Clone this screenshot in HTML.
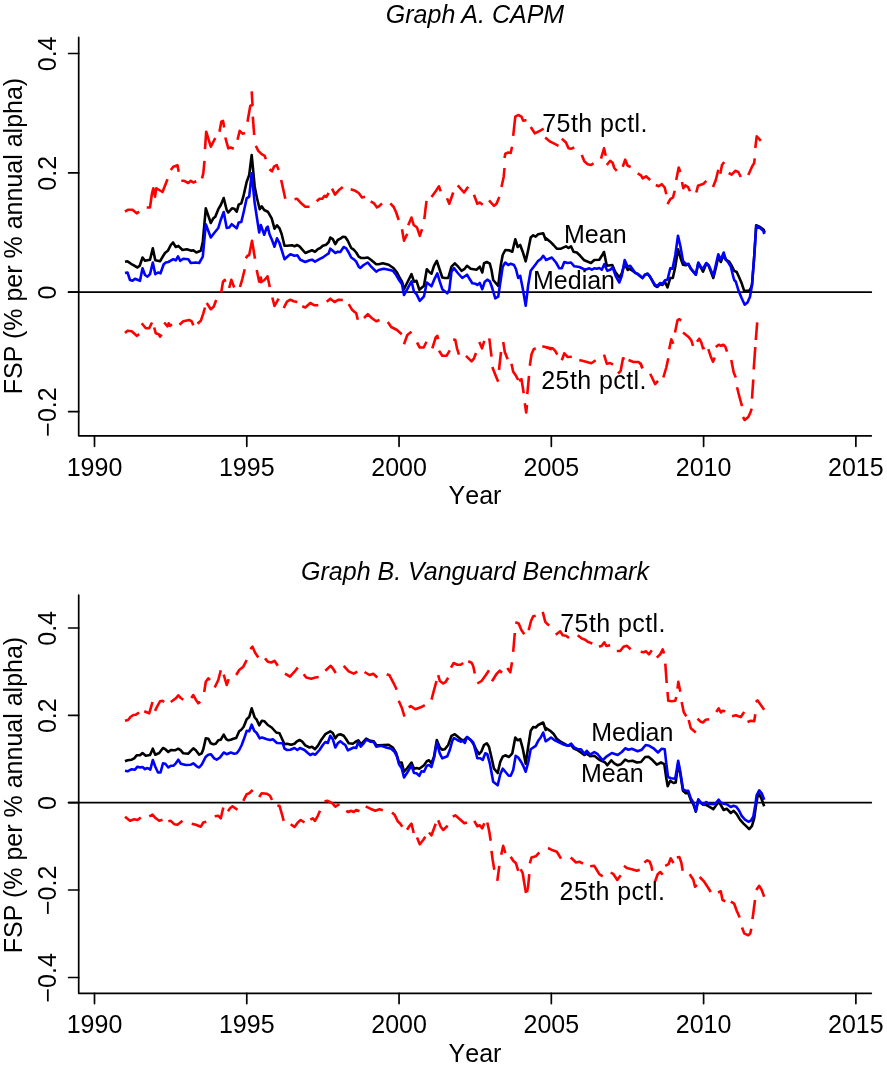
<!DOCTYPE html>
<html><head><meta charset="utf-8"><title>FSP graphs</title>
<style>
html,body{margin:0;padding:0;background:#fff;}
svg{display:block;}
text{font-family:"Liberation Sans",Arial,Helvetica,sans-serif;fill:#000;}
</style></head><body>
<svg width="887" height="1067" viewBox="0 0 887 1067">
<rect width="887" height="1067" fill="#fff"/>
<g id="zero">
<line x1="68.6" y1="292.2" x2="871.3" y2="292.2" stroke="#000" stroke-width="1.7" stroke-linecap="round"/>
<line x1="68.6" y1="802.6" x2="871.3" y2="802.6" stroke="#000" stroke-width="1.7" stroke-linecap="round"/>
</g>
<g id="curves">
<polyline points="125.0,211.7 128.3,209.7 132.5,209.7 136.7,213.3 139.2,211.7" fill="none" stroke="#ff0000" stroke-width="2.6" stroke-linejoin="round" stroke-linecap="butt"/>
<polyline points="146.7,207.5 150.0,207.5 152.0,193.3 153.3,188.3 155.0,196.7 156.3,188.3 159.2,190.0 162.5,192.0 167.5,179.2" fill="none" stroke="#ff0000" stroke-width="2.6" stroke-linejoin="round" stroke-linecap="butt"/>
<polyline points="170.8,170.0 173.3,166.7 177.5,165.3 178.7,171.7" fill="none" stroke="#ff0000" stroke-width="2.6" stroke-linejoin="round" stroke-linecap="butt"/>
<polyline points="181.3,180.8 184.2,180.8 188.3,183.0 190.8,180.8 193.3,182.5 196.3,181.3" fill="none" stroke="#ff0000" stroke-width="2.6" stroke-linejoin="round" stroke-linecap="butt"/>
<polyline points="202.0,178.3 203.3,173.3 204.5,160.8" fill="none" stroke="#ff0000" stroke-width="2.6" stroke-linejoin="round" stroke-linecap="butt"/>
<polyline points="205.0,149.2 206.2,131.7 210.8,146.7 215.3,138.0" fill="none" stroke="#ff0000" stroke-width="2.6" stroke-linejoin="round" stroke-linecap="butt"/>
<polyline points="219.5,131.7 221.3,121.7 223.0,120.8 224.2,127.5" fill="none" stroke="#ff0000" stroke-width="2.6" stroke-linejoin="round" stroke-linecap="butt"/>
<polyline points="225.3,137.5 228.3,148.3 230.8,147.5 233.8,148.7" fill="none" stroke="#ff0000" stroke-width="2.6" stroke-linejoin="round" stroke-linecap="butt"/>
<polyline points="237.5,139.7 239.7,130.8 242.5,133.7 245.0,133.0" fill="none" stroke="#ff0000" stroke-width="2.6" stroke-linejoin="round" stroke-linecap="butt"/>
<polyline points="247.5,121.7 250.3,105.8 252.5,105.0 251.7,91.3" fill="none" stroke="#ff0000" stroke-width="2.6" stroke-linejoin="round" stroke-linecap="butt"/>
<polyline points="252.8,116.7 254.2,135.0" fill="none" stroke="#ff0000" stroke-width="2.6" stroke-linejoin="round" stroke-linecap="butt"/>
<polyline points="255.8,145.8 258.3,150.8 261.7,154.2 264.7,155.8 265.8,159.2" fill="none" stroke="#ff0000" stroke-width="2.6" stroke-linejoin="round" stroke-linecap="butt"/>
<polyline points="269.5,169.2 272.0,171.3 274.0,166.7 276.7,165.0 278.7,170.0" fill="none" stroke="#ff0000" stroke-width="2.6" stroke-linejoin="round" stroke-linecap="butt"/>
<polyline points="281.2,180.0 285.3,198.7" fill="none" stroke="#ff0000" stroke-width="2.6" stroke-linejoin="round" stroke-linecap="butt"/>
<polyline points="294.5,199.2 297.0,198.7 301.2,203.3 305.3,206.7 309.5,206.7" fill="none" stroke="#ff0000" stroke-width="2.6" stroke-linejoin="round" stroke-linecap="butt"/>
<polyline points="316.7,201.3 319.5,198.7 322.3,198.7 324.5,195.8 326.2,197.0 328.7,193.0" fill="none" stroke="#ff0000" stroke-width="2.6" stroke-linejoin="round" stroke-linecap="butt"/>
<polyline points="332.0,188.7 335.0,194.7 338.7,190.3 342.8,187.0" fill="none" stroke="#ff0000" stroke-width="2.6" stroke-linejoin="round" stroke-linecap="butt"/>
<polyline points="350.7,189.2 355.3,190.8 358.7,193.0 362.0,197.5 365.0,196.7" fill="none" stroke="#ff0000" stroke-width="2.6" stroke-linejoin="round" stroke-linecap="butt"/>
<polyline points="370.7,201.3 374.0,203.3 377.0,207.5 379.5,205.8 382.0,203.3" fill="none" stroke="#ff0000" stroke-width="2.6" stroke-linejoin="round" stroke-linecap="butt"/>
<polyline points="390.3,203.3 393.7,207.0 396.2,212.5 398.7,220.0" fill="none" stroke="#ff0000" stroke-width="2.6" stroke-linejoin="round" stroke-linecap="butt"/>
<polyline points="402.0,229.2 404.0,240.8 406.7,235.0 407.5,234.0" fill="none" stroke="#ff0000" stroke-width="2.6" stroke-linejoin="round" stroke-linecap="butt"/>
<polyline points="408.2,225.3 411.5,217.5 413.7,225.0 416.5,227.0 417.3,228.3 419.8,235.8 422.0,229.2" fill="none" stroke="#ff0000" stroke-width="2.6" stroke-linejoin="round" stroke-linecap="butt"/>
<polyline points="424.3,219.2 426.5,200.8" fill="none" stroke="#ff0000" stroke-width="2.6" stroke-linejoin="round" stroke-linecap="butt"/>
<polyline points="431.5,197.0 435.7,191.3 439.0,186.3 440.7,191.3" fill="none" stroke="#ff0000" stroke-width="2.6" stroke-linejoin="round" stroke-linecap="butt"/>
<polyline points="447.0,198.3 449.3,203.7 453.2,192.5" fill="none" stroke="#ff0000" stroke-width="2.6" stroke-linejoin="round" stroke-linecap="butt"/>
<polyline points="457.7,185.3 464.0,192.5 468.2,186.7" fill="none" stroke="#ff0000" stroke-width="2.6" stroke-linejoin="round" stroke-linecap="butt"/>
<polyline points="474.0,194.7 477.3,203.7 479.8,202.5 482.7,204.7" fill="none" stroke="#ff0000" stroke-width="2.6" stroke-linejoin="round" stroke-linecap="butt"/>
<polyline points="489.0,200.3 494.0,205.8 496.5,203.7 499.3,197.0" fill="none" stroke="#ff0000" stroke-width="2.6" stroke-linejoin="round" stroke-linecap="butt"/>
<polyline points="501.5,187.0 503.7,176.7 504.5,168.0" fill="none" stroke="#ff0000" stroke-width="2.6" stroke-linejoin="round" stroke-linecap="butt"/>
<polyline points="504.5,158.0 505.3,153.7 508.2,152.5 510.7,153.0 512.0,146.7" fill="none" stroke="#ff0000" stroke-width="2.6" stroke-linejoin="round" stroke-linecap="butt"/>
<polyline points="513.2,135.8 515.3,116.7 518.2,115.0 521.5,116.7 523.2,120.8 526.5,120.0" fill="none" stroke="#ff0000" stroke-width="2.6" stroke-linejoin="round" stroke-linecap="butt"/>
<polyline points="530.7,127.0 534.8,133.3 539.8,130.8 543.7,128.7" fill="none" stroke="#ff0000" stroke-width="2.6" stroke-linejoin="round" stroke-linecap="butt"/>
<polyline points="545.2,137.5 550.2,141.7 554.3,143.7 558.5,145.8" fill="none" stroke="#ff0000" stroke-width="2.6" stroke-linejoin="round" stroke-linecap="butt"/>
<polyline points="561.8,138.7 566.0,142.5 568.5,148.3 571.0,148.7 574.3,147.5" fill="none" stroke="#ff0000" stroke-width="2.6" stroke-linejoin="round" stroke-linecap="butt"/>
<polyline points="581.8,155.0 584.3,161.3 587.7,164.2 591.0,165.0 593.5,163.3" fill="none" stroke="#ff0000" stroke-width="2.6" stroke-linejoin="round" stroke-linecap="butt"/>
<polyline points="601.0,158.7 604.0,148.3 605.7,155.8" fill="none" stroke="#ff0000" stroke-width="2.6" stroke-linejoin="round" stroke-linecap="butt"/>
<polyline points="606.8,165.0 610.2,160.8 612.7,163.0 614.3,168.0 616.8,170.8" fill="none" stroke="#ff0000" stroke-width="2.6" stroke-linejoin="round" stroke-linecap="butt"/>
<polyline points="622.7,166.7 625.2,159.7 627.7,165.8 630.7,167.0" fill="none" stroke="#ff0000" stroke-width="2.6" stroke-linejoin="round" stroke-linecap="butt"/>
<polyline points="637.7,173.3 641.0,175.3 642.7,178.3 646.0,176.3 650.2,180.0" fill="none" stroke="#ff0000" stroke-width="2.6" stroke-linejoin="round" stroke-linecap="butt"/>
<polyline points="655.8,185.0 658.7,186.3 661.7,184.2 664.7,187.5 666.3,194.2" fill="none" stroke="#ff0000" stroke-width="2.6" stroke-linejoin="round" stroke-linecap="butt"/>
<polyline points="667.5,204.2 670.3,199.2 673.0,197.5 674.7,190.8" fill="none" stroke="#ff0000" stroke-width="2.6" stroke-linejoin="round" stroke-linecap="butt"/>
<polyline points="676.2,180.0 678.7,167.5 680.3,172.0" fill="none" stroke="#ff0000" stroke-width="2.6" stroke-linejoin="round" stroke-linecap="butt"/>
<polyline points="682.0,182.0 683.3,188.3 685.3,185.3 688.0,187.0 690.0,191.3" fill="none" stroke="#ff0000" stroke-width="2.6" stroke-linejoin="round" stroke-linecap="butt"/>
<polyline points="696.3,192.5 698.0,185.8 700.8,184.7 703.7,183.7 706.3,180.8" fill="none" stroke="#ff0000" stroke-width="2.6" stroke-linejoin="round" stroke-linecap="butt"/>
<polyline points="713.0,187.0 715.8,180.0 718.3,169.7" fill="none" stroke="#ff0000" stroke-width="2.6" stroke-linejoin="round" stroke-linecap="butt"/>
<polyline points="720.3,173.7 722.0,165.0 724.2,162.0" fill="none" stroke="#ff0000" stroke-width="2.6" stroke-linejoin="round" stroke-linecap="butt"/>
<polyline points="728.7,173.0 731.7,174.7 735.3,170.8 738.3,172.0 740.8,177.0" fill="none" stroke="#ff0000" stroke-width="2.6" stroke-linejoin="round" stroke-linecap="butt"/>
<polyline points="748.3,175.0 752.0,166.7 754.2,163.0 754.7,158.3" fill="none" stroke="#ff0000" stroke-width="2.6" stroke-linejoin="round" stroke-linecap="butt"/>
<polyline points="755.3,148.0 756.7,136.3 758.7,138.3 760.8,140.8" fill="none" stroke="#ff0000" stroke-width="2.6" stroke-linejoin="round" stroke-linecap="butt"/>
<polyline points="125.0,333.0 127.5,330.8 131.7,331.3 136.7,335.8 139.2,334.2" fill="none" stroke="#ff0000" stroke-width="2.6" stroke-linejoin="round" stroke-linecap="butt"/>
<polyline points="141.7,323.3 145.8,328.3 149.2,328.3 152.0,322.5" fill="none" stroke="#ff0000" stroke-width="2.6" stroke-linejoin="round" stroke-linecap="butt"/>
<polyline points="154.2,327.5 155.8,333.3 158.7,334.2 160.0,336.7 161.7,334.7" fill="none" stroke="#ff0000" stroke-width="2.6" stroke-linejoin="round" stroke-linecap="butt"/>
<polyline points="164.2,322.5 167.5,326.3 168.7,323.3 170.0,325.8 172.0,324.2" fill="none" stroke="#ff0000" stroke-width="2.6" stroke-linejoin="round" stroke-linecap="butt"/>
<polyline points="179.5,324.7 183.3,321.3 189.2,320.0 191.7,321.3 193.3,325.3" fill="none" stroke="#ff0000" stroke-width="2.6" stroke-linejoin="round" stroke-linecap="butt"/>
<polyline points="197.5,323.7 200.8,320.8 203.3,313.3 205.0,307.5" fill="none" stroke="#ff0000" stroke-width="2.6" stroke-linejoin="round" stroke-linecap="butt"/>
<polyline points="206.7,303.0 210.8,309.2 213.7,306.7 216.2,300.0" fill="none" stroke="#ff0000" stroke-width="2.6" stroke-linejoin="round" stroke-linecap="butt"/>
<polyline points="221.2,292.5 223.0,281.7 224.7,280.0 225.3,281.7" fill="none" stroke="#ff0000" stroke-width="2.6" stroke-linejoin="round" stroke-linecap="butt"/>
<polyline points="229.2,288.0 231.3,279.7 234.2,287.5" fill="none" stroke="#ff0000" stroke-width="2.6" stroke-linejoin="round" stroke-linecap="butt"/>
<polyline points="240.0,287.0 242.5,278.3 244.7,269.2" fill="none" stroke="#ff0000" stroke-width="2.6" stroke-linejoin="round" stroke-linecap="butt"/>
<polyline points="245.8,258.3 247.5,255.8 249.2,255.0 252.0,240.8 255.0,258.7" fill="none" stroke="#ff0000" stroke-width="2.6" stroke-linejoin="round" stroke-linecap="butt"/>
<polyline points="256.7,270.0 259.2,281.7 260.8,277.5 261.7,281.7" fill="none" stroke="#ff0000" stroke-width="2.6" stroke-linejoin="round" stroke-linecap="butt"/>
<polyline points="260.0,282.5 262.8,281.0 264.5,280.0 267.5,276.3 269.8,287.0" fill="none" stroke="#ff0000" stroke-width="2.6" stroke-linejoin="round" stroke-linecap="butt"/>
<polyline points="272.3,297.5 274.5,305.8 278.7,298.7" fill="none" stroke="#ff0000" stroke-width="2.6" stroke-linejoin="round" stroke-linecap="butt"/>
<polyline points="283.7,308.0 287.0,301.7 290.3,299.7 293.7,301.3 297.3,302.0" fill="none" stroke="#ff0000" stroke-width="2.6" stroke-linejoin="round" stroke-linecap="butt"/>
<polyline points="302.3,306.3 305.3,307.5 310.3,303.0 314.5,305.3 318.3,305.3" fill="none" stroke="#ff0000" stroke-width="2.6" stroke-linejoin="round" stroke-linecap="butt"/>
<polyline points="326.7,301.7 330.3,298.7 334.5,302.0 338.7,299.7 342.8,300.0" fill="none" stroke="#ff0000" stroke-width="2.6" stroke-linejoin="round" stroke-linecap="butt"/>
<polyline points="348.7,304.2 352.0,309.7 356.2,313.3 357.8,319.7" fill="none" stroke="#ff0000" stroke-width="2.6" stroke-linejoin="round" stroke-linecap="butt"/>
<polyline points="364.0,318.0 367.8,314.2 372.0,318.3 376.2,321.3 379.5,320.0" fill="none" stroke="#ff0000" stroke-width="2.6" stroke-linejoin="round" stroke-linecap="butt"/>
<polyline points="387.8,322.0 391.2,327.0 397.0,330.0 401.7,334.2" fill="none" stroke="#ff0000" stroke-width="2.6" stroke-linejoin="round" stroke-linecap="butt"/>
<polyline points="404.0,344.2 407.3,335.0 411.5,331.7" fill="none" stroke="#ff0000" stroke-width="2.6" stroke-linejoin="round" stroke-linecap="butt"/>
<polyline points="417.0,342.5 419.8,347.5 423.7,347.5 426.5,341.7" fill="none" stroke="#ff0000" stroke-width="2.6" stroke-linejoin="round" stroke-linecap="butt"/>
<polyline points="432.3,348.3 435.7,337.5 437.3,335.8 438.2,339.2" fill="none" stroke="#ff0000" stroke-width="2.6" stroke-linejoin="round" stroke-linecap="butt"/>
<polyline points="439.0,350.8 442.3,355.8 446.5,355.8 449.8,350.3" fill="none" stroke="#ff0000" stroke-width="2.6" stroke-linejoin="round" stroke-linecap="butt"/>
<polyline points="453.2,339.2 455.3,340.0 457.0,348.3 459.0,354.7" fill="none" stroke="#ff0000" stroke-width="2.6" stroke-linejoin="round" stroke-linecap="butt"/>
<polyline points="466.0,355.8 471.5,361.3 474.0,358.3 476.0,353.0" fill="none" stroke="#ff0000" stroke-width="2.6" stroke-linejoin="round" stroke-linecap="butt"/>
<polyline points="479.3,342.0 482.0,348.3 484.3,340.8" fill="none" stroke="#ff0000" stroke-width="2.6" stroke-linejoin="round" stroke-linecap="butt"/>
<polyline points="489.3,338.3 491.5,356.7" fill="none" stroke="#ff0000" stroke-width="2.6" stroke-linejoin="round" stroke-linecap="butt"/>
<polyline points="492.3,367.0 495.3,374.7 498.2,381.7" fill="none" stroke="#ff0000" stroke-width="2.6" stroke-linejoin="round" stroke-linecap="butt"/>
<polyline points="499.0,370.0 501.0,352.0" fill="none" stroke="#ff0000" stroke-width="2.6" stroke-linejoin="round" stroke-linecap="butt"/>
<polyline points="503.2,342.0 504.8,352.0 507.7,359.2" fill="none" stroke="#ff0000" stroke-width="2.6" stroke-linejoin="round" stroke-linecap="butt"/>
<polyline points="511.5,363.7 513.2,371.7 516.0,375.8 518.2,380.0" fill="none" stroke="#ff0000" stroke-width="2.6" stroke-linejoin="round" stroke-linecap="butt"/>
<polyline points="519.0,380.8 521.5,379.2 523.7,393.3" fill="none" stroke="#ff0000" stroke-width="2.6" stroke-linejoin="round" stroke-linecap="butt"/>
<polyline points="524.8,403.3 526.2,412.5 527.0,405.0" fill="none" stroke="#ff0000" stroke-width="2.6" stroke-linejoin="round" stroke-linecap="butt"/>
<polyline points="527.3,394.2 529.0,375.8" fill="none" stroke="#ff0000" stroke-width="2.6" stroke-linejoin="round" stroke-linecap="butt"/>
<polyline points="529.8,365.8 531.5,354.2 533.7,349.2 535.7,348.3" fill="none" stroke="#ff0000" stroke-width="2.6" stroke-linejoin="round" stroke-linecap="butt"/>
<polyline points="542.3,346.3 547.3,347.5 551.8,349.7" fill="none" stroke="#ff0000" stroke-width="2.6" stroke-linejoin="round" stroke-linecap="butt"/>
<polyline points="546.0,347.5 552.7,348.3 555.2,350.8 557.3,354.7" fill="none" stroke="#ff0000" stroke-width="2.6" stroke-linejoin="round" stroke-linecap="butt"/>
<polyline points="561.8,360.3 564.3,353.3 567.7,357.0 571.8,356.7" fill="none" stroke="#ff0000" stroke-width="2.6" stroke-linejoin="round" stroke-linecap="butt"/>
<polyline points="579.3,360.0 586.0,361.7 591.3,363.3 595.7,360.3" fill="none" stroke="#ff0000" stroke-width="2.6" stroke-linejoin="round" stroke-linecap="butt"/>
<polyline points="604.0,354.7 606.8,363.7 610.2,363.0 613.0,364.7" fill="none" stroke="#ff0000" stroke-width="2.6" stroke-linejoin="round" stroke-linecap="butt"/>
<polyline points="618.0,373.7 620.7,370.8 623.0,358.3 624.7,358.7" fill="none" stroke="#ff0000" stroke-width="2.6" stroke-linejoin="round" stroke-linecap="butt"/>
<polyline points="628.5,360.0 633.5,362.0 638.5,362.0 641.0,364.2 642.3,368.3" fill="none" stroke="#ff0000" stroke-width="2.6" stroke-linejoin="round" stroke-linecap="butt"/>
<polyline points="650.2,373.7 655.2,384.2 658.0,380.8" fill="none" stroke="#ff0000" stroke-width="2.6" stroke-linejoin="round" stroke-linecap="butt"/>
<polyline points="640.0,362.5 642.5,368.3" fill="none" stroke="#ff0000" stroke-width="2.6" stroke-linejoin="round" stroke-linecap="butt"/>
<polyline points="663.3,377.5 666.3,367.5 668.3,358.3" fill="none" stroke="#ff0000" stroke-width="2.6" stroke-linejoin="round" stroke-linecap="butt"/>
<polyline points="669.2,349.2 671.3,339.2 673.3,343.7" fill="none" stroke="#ff0000" stroke-width="2.6" stroke-linejoin="round" stroke-linecap="butt"/>
<polyline points="675.0,332.5 677.5,320.3 679.2,319.2 681.3,320.3" fill="none" stroke="#ff0000" stroke-width="2.6" stroke-linejoin="round" stroke-linecap="butt"/>
<polyline points="683.0,332.5 688.3,336.7 691.3,340.3 693.0,345.8" fill="none" stroke="#ff0000" stroke-width="2.6" stroke-linejoin="round" stroke-linecap="butt"/>
<polyline points="697.0,341.7 699.2,338.7 701.3,342.5 703.0,348.3 704.7,347.5" fill="none" stroke="#ff0000" stroke-width="2.6" stroke-linejoin="round" stroke-linecap="butt"/>
<polyline points="708.3,349.2 710.8,356.7 713.0,361.7 714.7,357.5" fill="none" stroke="#ff0000" stroke-width="2.6" stroke-linejoin="round" stroke-linecap="butt"/>
<polyline points="715.8,347.0 718.7,344.7 720.8,345.8 723.3,344.7 725.3,346.7 727.0,351.7" fill="none" stroke="#ff0000" stroke-width="2.6" stroke-linejoin="round" stroke-linecap="butt"/>
<polyline points="731.3,360.0 733.7,372.5 735.8,377.5" fill="none" stroke="#ff0000" stroke-width="2.6" stroke-linejoin="round" stroke-linecap="butt"/>
<polyline points="737.0,387.3 739.7,397.8 742.0,406.2" fill="none" stroke="#ff0000" stroke-width="2.6" stroke-linejoin="round" stroke-linecap="butt"/>
<polyline points="743.0,417.0 744.7,420.0 748.3,417.0 750.3,412.8 751.7,408.7" fill="none" stroke="#ff0000" stroke-width="2.6" stroke-linejoin="round" stroke-linecap="butt"/>
<polyline points="752.0,398.7 753.3,379.5" fill="none" stroke="#ff0000" stroke-width="2.6" stroke-linejoin="round" stroke-linecap="butt"/>
<polyline points="753.7,369.5 755.3,347.0" fill="none" stroke="#ff0000" stroke-width="2.6" stroke-linejoin="round" stroke-linecap="butt"/>
<polyline points="755.8,340.0 757.2,322.3" fill="none" stroke="#ff0000" stroke-width="2.6" stroke-linejoin="round" stroke-linecap="butt"/>
<polyline points="125.0,261.7 127.5,261.3 132.5,264.7 137.5,267.5 139.7,265.8 142.5,257.5 145.0,260.8 150.0,259.7 152.8,248.3 155.3,260.3 160.0,261.3 162.5,257.0 165.0,253.0 167.8,250.8 170.8,245.0 173.0,242.5 175.8,247.0 178.3,245.8 182.5,250.0 186.7,249.2 191.7,250.8 193.3,250.3 196.3,252.5 200.8,250.8 202.8,241.7 205.8,208.3 210.8,223.0 213.3,218.3 215.3,216.7 218.3,209.2 220.8,205.0 223.7,198.0 226.7,210.0 228.3,212.5 232.0,208.3 234.2,208.7 236.7,211.7 238.7,204.7 241.3,203.3 243.3,196.7 246.7,181.7 249.2,175.0 251.7,155.0 254.7,186.7 257.0,198.3 259.7,209.2 261.7,206.3 264.2,210.0 267.8,211.7 271.7,218.3 274.5,228.7 277.0,225.3 279.5,228.3 281.7,234.2 284.5,245.8 287.0,245.8 292.0,245.3 294.5,246.3 297.0,245.0 299.5,246.3 305.3,253.0 309.5,251.3 312.0,250.3 315.0,251.7 317.8,249.2 320.3,248.0 322.8,245.8 326.2,244.7 328.7,242.0 330.3,237.5 332.8,239.2 335.3,244.2 337.8,240.0 340.3,238.7 342.8,236.7 345.3,237.0 347.8,240.8 351.2,248.0 353.7,249.7 356.2,252.5 358.7,256.7 361.2,258.0 364.5,258.0 367.8,257.5 371.2,260.0 376.2,264.2 378.7,264.2 382.8,263.3 388.7,264.7 393.7,268.3 397.0,272.5 399.5,277.5 402.0,281.7 404.0,289.2 407.3,282.5 411.5,274.2 414.0,281.7 416.5,280.8 419.3,289.7 424.0,285.8 426.8,269.2 429.8,272.5 431.5,273.7 434.0,265.8 436.8,260.8 439.8,270.0 442.3,277.5 444.8,278.0 448.2,278.0 451.5,266.7 454.8,263.3 458.2,266.7 461.5,270.8 464.3,269.2 467.0,265.8 470.7,268.7 476.5,269.7 479.8,266.7 482.3,272.5 484.0,263.3 486.8,262.0 489.8,263.7 491.5,270.0 493.2,280.0 498.2,285.8 500.7,265.8 502.7,255.0 505.3,250.0 509.0,250.3 512.3,251.7 515.3,239.2 517.7,247.0 520.2,245.0 522.7,251.7 525.7,261.3 528.2,250.0 530.7,237.5 533.2,235.3 535.7,236.7 538.2,234.2 543.2,233.3 545.7,239.7 546.0,238.3 550.2,241.7 553.5,245.0 556.8,248.7 561.0,248.7 566.0,246.3 568.5,248.0 571.0,246.3 573.5,251.7 576.8,252.5 580.2,255.8 584.3,260.3 591.0,263.0 594.3,260.0 599.3,259.7 601.8,255.8 604.0,252.0 606.8,265.8 612.3,265.0 615.2,271.7 619.3,277.5 621.8,273.3 624.7,263.7 627.7,270.0 629.3,268.7 632.7,270.8 637.7,274.2 642.5,278.0 645.0,274.7 647.5,273.7 650.0,276.7 655.0,285.8 657.5,287.0 660.0,284.2 662.5,285.0 665.0,282.0 667.5,287.5 670.3,278.0 672.8,278.0 675.3,266.7 678.0,249.2 680.8,258.7 683.0,264.7 685.8,265.3 688.3,264.2 690.8,268.7 695.8,274.7 698.3,263.3 700.8,267.5 703.0,271.7 706.3,263.7 708.7,265.8 713.3,278.0 715.8,268.3 718.3,256.7 720.8,262.0 723.7,255.0 725.8,259.7 729.2,261.7 731.7,265.8 734.2,270.8 736.7,272.0 739.2,277.5 741.7,283.3 744.2,290.8 749.2,290.8 750.8,288.3 752.0,285.0 754.2,256.7 756.2,225.3 760.0,227.0 763.7,229.7 764.7,232.7" fill="none" stroke="#000" stroke-width="2.6" stroke-linejoin="round" stroke-linecap="butt"/>
<polyline points="125.0,273.0 127.5,272.5 130.0,280.0 132.5,280.8 135.0,278.7 140.0,280.8 142.5,268.3 145.0,275.0 147.5,276.7 150.0,274.2 152.8,262.5 155.3,274.2 158.0,272.5 160.5,273.3 163.7,264.2 165.8,262.5 168.3,262.0 173.3,259.2 175.8,260.3 178.0,256.3 180.3,260.8 183.3,258.7 188.3,259.2 190.8,263.0 195.8,262.5 199.2,263.0 202.8,256.7 205.8,224.2 210.8,237.5 214.2,233.0 218.3,228.0 220.8,219.7 223.7,212.0 226.7,228.0 229.2,227.5 231.7,224.2 236.7,228.3 238.7,222.5 241.3,222.0 243.7,212.0 246.7,198.3 249.2,196.7 251.7,173.3 254.7,203.3 257.0,218.3 259.2,232.5 260.8,225.0 264.2,234.7 266.7,227.5 267.8,226.7 269.5,234.2 272.0,240.0 274.5,246.7 277.0,238.3 279.5,243.0 281.7,250.0 284.5,259.2 287.0,257.0 290.3,254.2 294.5,255.8 297.3,255.3 300.3,259.7 305.3,262.0 309.5,260.3 312.0,259.7 315.0,261.7 320.3,258.7 322.8,257.5 326.2,255.0 328.7,253.3 330.3,248.7 332.8,250.8 335.3,253.0 337.8,251.7 340.3,252.0 343.7,247.0 346.2,248.3 348.7,252.5 351.2,257.5 353.7,259.2 356.2,261.7 358.7,266.7 360.3,268.0 363.7,265.0 367.8,262.5 371.2,266.7 376.2,271.7 378.7,270.0 383.7,268.7 388.7,269.7 392.8,270.8 396.2,275.0 399.5,280.8 402.0,284.2 404.0,295.0 407.3,289.2 411.5,281.3 414.0,291.7 416.5,294.2 419.8,300.8 424.0,296.3 426.8,282.5 431.5,286.3 434.8,278.3 437.3,273.3 439.8,281.7 442.3,289.2 447.3,293.3 449.3,290.0 451.5,271.7 454.0,268.0 457.3,272.5 462.3,278.0 467.0,274.7 469.8,279.2 472.3,283.3 475.7,283.7 477.3,285.0 479.8,283.0 482.3,289.2 484.8,281.7 487.3,279.7 489.8,281.3 492.3,288.3 495.3,298.3 498.2,296.7 500.7,280.0 502.7,266.7 505.3,262.5 508.2,265.0 510.7,263.7 514.0,265.0 516.0,269.2 518.2,278.0 520.2,275.8 522.7,288.3 525.7,305.8 528.2,285.0 530.7,270.8 535.7,264.2 538.2,260.8 540.7,259.2 543.2,255.8 545.7,259.2 546.0,260.0 551.8,257.5 556.0,262.5 559.3,268.3 561.8,268.3 564.3,262.0 567.7,263.0 571.0,262.5 574.3,266.3 579.3,267.0 585.2,269.7 589.3,268.3 591.8,269.7 594.3,268.3 596.8,268.7 599.3,268.0 601.8,269.7 604.3,264.2 607.3,270.8 610.2,269.7 612.7,267.5 616.0,276.7 619.3,282.5 621.8,275.8 624.7,260.0 627.7,266.7 630.2,265.8 632.7,269.2 635.2,273.0 637.7,273.7 642.5,278.0 645.0,274.7 647.5,273.7 650.0,276.7 655.0,285.0 657.5,285.8 660.0,283.0 662.5,283.7 665.0,280.3 667.5,279.7 670.3,268.3 672.5,268.7 675.3,255.0 678.0,235.8 680.3,245.8 683.0,260.8 685.8,264.2 688.3,263.7 690.8,268.7 695.8,274.7 698.3,262.5 700.8,267.0 703.0,268.7 706.3,263.0 708.7,265.3 713.3,275.8 715.8,265.0 718.3,254.2 720.8,259.7 723.7,252.5 725.8,259.7 728.3,262.5 730.8,266.7 733.3,276.7 734.2,280.0 735.8,281.7 738.3,290.0 741.7,298.3 744.7,304.7 747.5,302.5 750.0,296.7 752.0,285.0 754.2,256.7 756.2,225.8 760.0,228.0 763.3,230.8 764.3,234.0" fill="none" stroke="#0000ff" stroke-width="2.6" stroke-linejoin="round" stroke-linecap="butt"/>
<polyline points="125.0,720.8 128.0,720.0 130.8,716.7 133.3,715.0 135.8,714.7 139.2,712.5" fill="none" stroke="#ff0000" stroke-width="2.6" stroke-linejoin="round" stroke-linecap="butt"/>
<polyline points="144.2,711.3 149.2,713.3 150.8,708.0 152.5,702.0" fill="none" stroke="#ff0000" stroke-width="2.6" stroke-linejoin="round" stroke-linecap="butt"/>
<polyline points="155.0,710.8 157.5,705.8 160.0,701.3 162.5,700.8 164.2,702.0" fill="none" stroke="#ff0000" stroke-width="2.6" stroke-linejoin="round" stroke-linecap="butt"/>
<polyline points="170.8,702.0 175.8,698.3 178.3,695.3 180.8,698.0 183.3,699.7" fill="none" stroke="#ff0000" stroke-width="2.6" stroke-linejoin="round" stroke-linecap="butt"/>
<polyline points="191.3,698.0 193.3,695.0 195.8,699.7 198.3,703.3 200.3,701.7" fill="none" stroke="#ff0000" stroke-width="2.6" stroke-linejoin="round" stroke-linecap="butt"/>
<polyline points="204.2,692.0 205.8,681.7 208.3,678.3 210.0,680.0" fill="none" stroke="#ff0000" stroke-width="2.6" stroke-linejoin="round" stroke-linecap="butt"/>
<polyline points="214.7,687.5 218.3,680.0 220.8,670.3" fill="none" stroke="#ff0000" stroke-width="2.6" stroke-linejoin="round" stroke-linecap="butt"/>
<polyline points="223.7,674.7 226.7,685.0 228.7,679.2" fill="none" stroke="#ff0000" stroke-width="2.6" stroke-linejoin="round" stroke-linecap="butt"/>
<polyline points="236.2,675.0 239.2,670.0 243.3,666.7 246.7,660.0" fill="none" stroke="#ff0000" stroke-width="2.6" stroke-linejoin="round" stroke-linecap="butt"/>
<polyline points="250.3,649.2 252.5,646.7 255.0,652.5 258.3,657.5" fill="none" stroke="#ff0000" stroke-width="2.6" stroke-linejoin="round" stroke-linecap="butt"/>
<polyline points="265.0,658.3 267.8,661.7 271.2,662.5 274.5,660.8 277.8,665.8" fill="none" stroke="#ff0000" stroke-width="2.6" stroke-linejoin="round" stroke-linecap="butt"/>
<polyline points="285.0,673.7 290.0,676.7 294.5,671.7 297.8,667.5" fill="none" stroke="#ff0000" stroke-width="2.6" stroke-linejoin="round" stroke-linecap="butt"/>
<polyline points="303.7,674.2 306.2,677.5 311.2,678.7 315.3,677.5 318.7,677.0" fill="none" stroke="#ff0000" stroke-width="2.6" stroke-linejoin="round" stroke-linecap="butt"/>
<polyline points="325.3,670.8 330.7,665.8 332.8,668.3 335.7,673.0" fill="none" stroke="#ff0000" stroke-width="2.6" stroke-linejoin="round" stroke-linecap="butt"/>
<polyline points="343.7,665.8 348.7,671.3 353.7,673.7 357.3,671.7" fill="none" stroke="#ff0000" stroke-width="2.6" stroke-linejoin="round" stroke-linecap="butt"/>
<polyline points="364.5,672.0 369.5,675.0 373.3,673.7 377.3,677.5" fill="none" stroke="#ff0000" stroke-width="2.6" stroke-linejoin="round" stroke-linecap="butt"/>
<polyline points="386.7,674.2 389.5,675.3 393.7,683.3 396.7,689.7" fill="none" stroke="#ff0000" stroke-width="2.6" stroke-linejoin="round" stroke-linecap="butt"/>
<polyline points="398.7,700.8 402.0,708.3 404.5,716.7" fill="none" stroke="#ff0000" stroke-width="2.6" stroke-linejoin="round" stroke-linecap="butt"/>
<polyline points="408.7,707.3 410.7,706.0 415.3,709.3 420.7,707.3 424.8,705.2" fill="none" stroke="#ff0000" stroke-width="2.6" stroke-linejoin="round" stroke-linecap="butt"/>
<polyline points="431.5,699.7 434.0,690.2 436.5,681.0" fill="none" stroke="#ff0000" stroke-width="2.6" stroke-linejoin="round" stroke-linecap="butt"/>
<polyline points="438.2,675.2 439.8,681.0 443.2,683.5 445.7,681.8 448.2,677.7" fill="none" stroke="#ff0000" stroke-width="2.6" stroke-linejoin="round" stroke-linecap="butt"/>
<polyline points="451.0,667.7 453.7,663.0 457.3,664.7 460.7,664.7 463.2,663.0" fill="none" stroke="#ff0000" stroke-width="2.6" stroke-linejoin="round" stroke-linecap="butt"/>
<polyline points="468.2,661.3 471.5,662.7 473.2,666.0 474.8,673.5" fill="none" stroke="#ff0000" stroke-width="2.6" stroke-linejoin="round" stroke-linecap="butt"/>
<polyline points="477.3,683.5 481.5,681.0 485.7,675.2 489.0,670.2" fill="none" stroke="#ff0000" stroke-width="2.6" stroke-linejoin="round" stroke-linecap="butt"/>
<polyline points="492.0,681.3 496.5,674.0 499.8,670.7 502.0,672.7" fill="none" stroke="#ff0000" stroke-width="2.6" stroke-linejoin="round" stroke-linecap="butt"/>
<polyline points="507.3,668.0 510.3,672.3 512.0,662.3" fill="none" stroke="#ff0000" stroke-width="2.6" stroke-linejoin="round" stroke-linecap="butt"/>
<polyline points="513.2,651.8 514.8,633.0" fill="none" stroke="#ff0000" stroke-width="2.6" stroke-linejoin="round" stroke-linecap="butt"/>
<polyline points="515.3,622.3 518.7,623.5 521.5,630.2 524.3,634.3" fill="none" stroke="#ff0000" stroke-width="2.6" stroke-linejoin="round" stroke-linecap="butt"/>
<polyline points="528.7,630.2 531.0,621.0 533.2,616.3 535.7,615.7" fill="none" stroke="#ff0000" stroke-width="2.6" stroke-linejoin="round" stroke-linecap="butt"/>
<polyline points="542.7,611.8 545.3,621.8 547.7,624.3 549.3,625.3" fill="none" stroke="#ff0000" stroke-width="2.6" stroke-linejoin="round" stroke-linecap="butt"/>
<polyline points="555.7,634.7 560.2,631.3 562.7,635.2 566.0,635.7 569.0,638.0" fill="none" stroke="#ff0000" stroke-width="2.6" stroke-linejoin="round" stroke-linecap="butt"/>
<polyline points="577.7,635.2 581.8,638.5 585.2,639.7 587.7,641.8 592.3,643.5" fill="none" stroke="#ff0000" stroke-width="2.6" stroke-linejoin="round" stroke-linecap="butt"/>
<polyline points="599.0,646.8 601.8,645.7 604.3,642.3 606.3,646.0 610.2,645.2" fill="none" stroke="#ff0000" stroke-width="2.6" stroke-linejoin="round" stroke-linecap="butt"/>
<polyline points="616.8,651.0 620.2,651.0 623.5,646.8 626.8,645.7 630.7,649.3" fill="none" stroke="#ff0000" stroke-width="2.6" stroke-linejoin="round" stroke-linecap="butt"/>
<polyline points="640.7,651.8 643.5,652.3 646.0,651.3 649.0,654.3 651.8,650.2" fill="none" stroke="#ff0000" stroke-width="2.6" stroke-linejoin="round" stroke-linecap="butt"/>
<polyline points="656.8,657.7 660.2,654.3 662.7,649.3 664.0,653.5" fill="none" stroke="#ff0000" stroke-width="2.6" stroke-linejoin="round" stroke-linecap="butt"/>
<polyline points="665.3,663.7 666.7,683.0" fill="none" stroke="#ff0000" stroke-width="2.6" stroke-linejoin="round" stroke-linecap="butt"/>
<polyline points="667.5,692.0 668.3,700.8 671.7,701.3 675.3,700.8 676.2,697.0" fill="none" stroke="#ff0000" stroke-width="2.6" stroke-linejoin="round" stroke-linecap="butt"/>
<polyline points="677.5,688.7 678.3,681.7 680.3,691.7" fill="none" stroke="#ff0000" stroke-width="2.6" stroke-linejoin="round" stroke-linecap="butt"/>
<polyline points="681.7,702.0 683.7,712.0 686.3,716.3" fill="none" stroke="#ff0000" stroke-width="2.6" stroke-linejoin="round" stroke-linecap="butt"/>
<polyline points="688.7,720.0 690.8,728.3 695.8,732.5" fill="none" stroke="#ff0000" stroke-width="2.6" stroke-linejoin="round" stroke-linecap="butt"/>
<polyline points="697.5,718.7 700.8,721.7 703.0,722.5 705.8,719.7 709.2,719.2" fill="none" stroke="#ff0000" stroke-width="2.6" stroke-linejoin="round" stroke-linecap="butt"/>
<polyline points="716.3,712.0 718.7,708.3 720.8,712.5 722.5,710.8 725.3,711.3" fill="none" stroke="#ff0000" stroke-width="2.6" stroke-linejoin="round" stroke-linecap="butt"/>
<polyline points="732.0,716.3 735.8,715.3 738.3,716.3 740.8,717.0 744.2,712.0" fill="none" stroke="#ff0000" stroke-width="2.6" stroke-linejoin="round" stroke-linecap="butt"/>
<polyline points="747.5,722.0 750.8,720.8 754.2,721.3 755.3,714.2" fill="none" stroke="#ff0000" stroke-width="2.6" stroke-linejoin="round" stroke-linecap="butt"/>
<polyline points="755.8,702.0 757.5,700.3 760.8,705.0 764.2,709.7" fill="none" stroke="#ff0000" stroke-width="2.6" stroke-linejoin="round" stroke-linecap="butt"/>
<polyline points="125.0,816.7 130.0,820.8 134.2,819.2 137.5,820.0 140.8,817.5" fill="none" stroke="#ff0000" stroke-width="2.6" stroke-linejoin="round" stroke-linecap="butt"/>
<polyline points="149.2,816.3 152.5,814.7 155.8,818.3 159.2,820.8 162.5,819.7" fill="none" stroke="#ff0000" stroke-width="2.6" stroke-linejoin="round" stroke-linecap="butt"/>
<polyline points="168.3,821.3 170.8,820.8 174.2,824.2 177.5,824.7 182.5,820.8" fill="none" stroke="#ff0000" stroke-width="2.6" stroke-linejoin="round" stroke-linecap="butt"/>
<polyline points="191.7,823.7 195.8,824.7 200.8,826.7 203.3,822.5 206.3,821.7" fill="none" stroke="#ff0000" stroke-width="2.6" stroke-linejoin="round" stroke-linecap="butt"/>
<polyline points="214.7,816.3 218.3,815.8 220.8,818.3 223.3,807.5" fill="none" stroke="#ff0000" stroke-width="2.6" stroke-linejoin="round" stroke-linecap="butt"/>
<polyline points="228.0,811.3 230.0,808.3 232.5,806.3 237.5,809.7" fill="none" stroke="#ff0000" stroke-width="2.6" stroke-linejoin="round" stroke-linecap="butt"/>
<polyline points="243.3,800.8 246.7,794.2 249.2,793.3 252.8,790.0" fill="none" stroke="#ff0000" stroke-width="2.6" stroke-linejoin="round" stroke-linecap="butt"/>
<polyline points="259.2,797.0 261.7,793.3 267.0,793.7 270.0,795.8 272.0,800.0" fill="none" stroke="#ff0000" stroke-width="2.6" stroke-linejoin="round" stroke-linecap="butt"/>
<polyline points="277.3,805.8 279.5,805.8 281.7,813.3 283.7,820.8" fill="none" stroke="#ff0000" stroke-width="2.6" stroke-linejoin="round" stroke-linecap="butt"/>
<polyline points="290.7,824.2 294.5,827.0 297.8,822.5 300.7,820.0 304.5,822.5" fill="none" stroke="#ff0000" stroke-width="2.6" stroke-linejoin="round" stroke-linecap="butt"/>
<polyline points="310.3,819.7 312.8,818.3 315.0,820.8 317.8,815.8 320.0,810.8" fill="none" stroke="#ff0000" stroke-width="2.6" stroke-linejoin="round" stroke-linecap="butt"/>
<polyline points="324.5,801.3 327.8,800.8 332.0,803.0 335.3,806.7 339.5,804.2" fill="none" stroke="#ff0000" stroke-width="2.6" stroke-linejoin="round" stroke-linecap="butt"/>
<polyline points="346.2,810.8 348.3,812.0 351.2,810.8 353.7,812.0 356.2,810.0 359.5,811.3" fill="none" stroke="#ff0000" stroke-width="2.6" stroke-linejoin="round" stroke-linecap="butt"/>
<polyline points="365.7,806.3 370.3,808.7 375.3,810.8 379.5,809.2 382.8,810.3" fill="none" stroke="#ff0000" stroke-width="2.6" stroke-linejoin="round" stroke-linecap="butt"/>
<polyline points="392.0,812.5 394.5,814.7 397.8,821.3 400.3,823.7 402.3,826.7" fill="none" stroke="#ff0000" stroke-width="2.6" stroke-linejoin="round" stroke-linecap="butt"/>
<polyline points="407.0,829.7 409.0,826.7 411.5,823.7 413.7,833.0" fill="none" stroke="#ff0000" stroke-width="2.6" stroke-linejoin="round" stroke-linecap="butt"/>
<polyline points="417.0,837.5 419.8,844.2 423.2,840.0 425.3,836.7" fill="none" stroke="#ff0000" stroke-width="2.6" stroke-linejoin="round" stroke-linecap="butt"/>
<polyline points="429.0,832.5 431.5,835.3 435.7,823.7" fill="none" stroke="#ff0000" stroke-width="2.6" stroke-linejoin="round" stroke-linecap="butt"/>
<polyline points="438.2,820.3 440.7,826.7 443.2,830.0 447.7,825.8" fill="none" stroke="#ff0000" stroke-width="2.6" stroke-linejoin="round" stroke-linecap="butt"/>
<polyline points="452.7,816.7 455.3,815.3 460.7,820.0 464.3,823.3 467.0,822.5" fill="none" stroke="#ff0000" stroke-width="2.6" stroke-linejoin="round" stroke-linecap="butt"/>
<polyline points="474.3,820.8 477.3,826.3 479.8,825.3 482.3,828.3 484.3,823.3" fill="none" stroke="#ff0000" stroke-width="2.6" stroke-linejoin="round" stroke-linecap="butt"/>
<polyline points="487.3,822.5 489.3,831.7 490.7,840.8" fill="none" stroke="#ff0000" stroke-width="2.6" stroke-linejoin="round" stroke-linecap="butt"/>
<polyline points="491.5,850.8 492.7,860.0 494.3,869.7" fill="none" stroke="#ff0000" stroke-width="2.6" stroke-linejoin="round" stroke-linecap="butt"/>
<polyline points="497.3,880.8 499.3,865.8" fill="none" stroke="#ff0000" stroke-width="2.6" stroke-linejoin="round" stroke-linecap="butt"/>
<polyline points="501.2,854.7 503.2,845.8 505.3,853.0" fill="none" stroke="#ff0000" stroke-width="2.6" stroke-linejoin="round" stroke-linecap="butt"/>
<polyline points="510.7,856.7 513.2,860.8 516.0,863.3 518.2,870.8" fill="none" stroke="#ff0000" stroke-width="2.6" stroke-linejoin="round" stroke-linecap="butt"/>
<polyline points="520.7,869.2 522.7,873.3 524.3,883.3 526.0,893.0" fill="none" stroke="#ff0000" stroke-width="2.6" stroke-linejoin="round" stroke-linecap="butt"/>
<polyline points="527.0,892.0 528.2,885.8 529.3,874.2" fill="none" stroke="#ff0000" stroke-width="2.6" stroke-linejoin="round" stroke-linecap="butt"/>
<polyline points="529.8,863.3 531.5,857.5 535.7,856.3 539.3,852.5" fill="none" stroke="#ff0000" stroke-width="2.6" stroke-linejoin="round" stroke-linecap="butt"/>
<polyline points="548.0,848.0 552.7,850.3 556.8,851.7 559.3,855.8 561.0,858.7" fill="none" stroke="#ff0000" stroke-width="2.6" stroke-linejoin="round" stroke-linecap="butt"/>
<polyline points="570.7,857.5 573.5,860.0 576.0,862.5 579.3,861.7 583.0,863.7" fill="none" stroke="#ff0000" stroke-width="2.6" stroke-linejoin="round" stroke-linecap="butt"/>
<polyline points="590.2,866.3 594.3,865.8 596.8,870.0 599.3,874.2 602.7,876.3" fill="none" stroke="#ff0000" stroke-width="2.6" stroke-linejoin="round" stroke-linecap="butt"/>
<polyline points="610.7,872.5 613.5,874.2 617.3,880.0 620.7,875.3" fill="none" stroke="#ff0000" stroke-width="2.6" stroke-linejoin="round" stroke-linecap="butt"/>
<polyline points="624.0,865.8 626.8,868.0 631.8,869.2 636.8,870.8 639.7,869.7" fill="none" stroke="#ff0000" stroke-width="2.6" stroke-linejoin="round" stroke-linecap="butt"/>
<polyline points="644.3,862.5 647.3,860.3 649.7,861.7 651.3,865.8 652.3,870.8" fill="none" stroke="#ff0000" stroke-width="2.6" stroke-linejoin="round" stroke-linecap="butt"/>
<polyline points="655.2,881.3 657.7,874.2 660.2,872.0 662.7,874.7" fill="none" stroke="#ff0000" stroke-width="2.6" stroke-linejoin="round" stroke-linecap="butt"/>
<polyline points="665.2,865.8 668.5,864.2 670.7,858.3 673.5,863.0" fill="none" stroke="#ff0000" stroke-width="2.6" stroke-linejoin="round" stroke-linecap="butt"/>
<polyline points="676.8,857.5 679.3,857.0 681.3,862.5 682.7,870.8" fill="none" stroke="#ff0000" stroke-width="2.6" stroke-linejoin="round" stroke-linecap="butt"/>
<polyline points="689.7,874.2 693.3,879.7 695.0,886.7 697.0,885.0" fill="none" stroke="#ff0000" stroke-width="2.6" stroke-linejoin="round" stroke-linecap="butt"/>
<polyline points="699.7,877.0 704.2,881.7 708.0,887.5 710.8,892.0" fill="none" stroke="#ff0000" stroke-width="2.6" stroke-linejoin="round" stroke-linecap="butt"/>
<polyline points="718.0,892.5 720.8,891.3 722.5,900.0 725.3,901.3" fill="none" stroke="#ff0000" stroke-width="2.6" stroke-linejoin="round" stroke-linecap="butt"/>
<polyline points="730.8,901.7 734.2,903.7 736.7,910.8 739.7,917.5" fill="none" stroke="#ff0000" stroke-width="2.6" stroke-linejoin="round" stroke-linecap="butt"/>
<polyline points="742.0,927.5 744.2,933.3 748.3,935.3 750.3,933.3 751.3,928.7" fill="none" stroke="#ff0000" stroke-width="2.6" stroke-linejoin="round" stroke-linecap="butt"/>
<polyline points="752.5,919.2 755.0,900.0" fill="none" stroke="#ff0000" stroke-width="2.6" stroke-linejoin="round" stroke-linecap="butt"/>
<polyline points="756.2,890.0 759.2,885.8 761.7,890.0 764.2,896.7" fill="none" stroke="#ff0000" stroke-width="2.6" stroke-linejoin="round" stroke-linecap="butt"/>
<polyline points="125.0,761.3 127.5,760.3 131.7,759.7 134.2,758.3 136.7,755.3 140.0,755.3 142.5,753.0 145.8,755.8 150.0,755.0 152.8,748.7 155.3,754.7 159.2,753.0 163.0,748.0 165.3,749.2 168.3,752.0 170.8,750.0 175.0,750.3 178.3,748.7 180.8,750.3 183.3,753.3 188.3,753.7 190.8,750.8 193.3,748.3 195.8,750.3 199.2,754.7 201.7,753.3 203.3,749.2 205.8,738.3 208.3,738.7 210.8,743.3 213.3,744.2 215.8,743.7 218.3,740.3 220.8,739.7 223.7,734.7 226.2,739.2 228.3,740.3 230.8,739.7 233.3,738.7 236.2,738.0 239.2,731.3 241.3,729.7 243.7,726.7 246.7,719.2 249.2,717.0 251.7,708.3 254.7,717.5 256.7,719.7 259.2,725.3 261.7,720.8 262.0,720.8 264.5,721.3 267.8,725.0 271.7,727.5 276.2,732.5 279.5,733.3 284.5,744.2 287.0,743.7 291.2,744.7 294.5,743.7 297.0,741.3 299.5,740.0 302.0,741.3 305.3,745.3 309.5,747.5 312.0,746.7 315.0,749.2 317.8,745.8 321.2,740.0 325.3,734.2 330.3,731.3 332.8,733.0 335.3,738.3 337.8,735.0 340.3,734.2 343.7,735.8 346.2,739.2 348.7,743.3 352.8,743.7 355.3,742.0 358.3,740.3 361.2,744.2 363.7,741.3 366.2,738.7 370.3,740.8 373.7,741.3 376.2,745.0 378.7,745.3 383.7,745.0 388.7,744.7 392.8,747.5 396.2,753.0 399.0,762.5 401.7,762.5 404.0,771.7 407.3,768.0 411.5,762.5 414.0,768.7 416.5,768.0 419.3,768.7 424.0,765.3 426.8,761.3 429.0,760.3 431.5,763.3 434.0,756.7 436.8,740.0 439.8,747.5 442.3,749.7 444.8,749.2 448.2,745.0 451.5,735.8 454.8,734.2 458.2,737.0 461.5,739.7 464.3,740.0 467.0,737.0 470.7,740.0 474.0,744.7 476.5,750.0 479.0,754.2 481.5,751.3 484.0,745.0 486.8,743.3 489.0,746.7 491.5,757.5 494.0,768.7 497.7,773.0 500.3,761.7 502.7,756.7 505.3,755.3 509.0,757.0 512.3,753.3 515.3,737.5 517.7,740.3 520.2,739.2 522.7,748.3 525.7,763.7 528.2,746.7 530.7,730.8 533.2,727.0 535.7,727.5 538.2,725.0 543.2,722.5 545.7,730.0 546.0,728.0 550.2,730.8 553.5,733.7 556.8,738.7 561.0,742.0 566.0,744.7 568.5,745.8 571.0,744.7 573.5,748.3 576.8,749.7 580.2,752.0 584.3,755.0 586.8,753.7 590.2,756.3 594.3,755.8 599.3,759.7 602.7,761.3 605.2,762.5 607.3,765.3 611.3,760.3 614.3,763.3 617.7,765.3 621.0,764.2 625.2,759.7 628.5,761.3 632.7,760.8 636.8,762.5 641.0,762.0 645.2,757.0 648.5,756.7 652.7,760.3 656.8,764.7 661.0,762.5 664.3,764.2 666.3,778.3 667.7,786.3 670.2,780.8 673.5,783.0 675.7,782.5 678.2,763.3 680.3,773.7 683.0,790.8 685.8,793.3 688.3,793.0 690.8,800.0 693.3,804.2 695.8,811.7 698.3,800.0 700.8,803.0 703.3,804.7 706.3,805.0 708.7,806.3 713.3,809.2 715.8,805.8 718.7,801.7 720.8,805.0 723.7,810.0 726.7,808.7 730.8,813.0 733.7,810.8 736.7,814.2 740.0,819.7 743.3,823.3 746.7,826.7 749.2,829.2 752.0,825.8 754.2,818.3 755.8,806.7 757.5,796.7 759.2,794.2 761.3,798.3 764.2,806.3" fill="none" stroke="#000" stroke-width="2.6" stroke-linejoin="round" stroke-linecap="butt"/>
<polyline points="125.0,770.8 127.5,771.3 131.7,769.2 135.0,769.7 137.5,766.7 140.0,767.5 142.5,767.0 145.0,769.2 147.5,768.0 150.3,769.7 152.8,760.0 155.3,766.7 158.0,772.5 160.5,772.5 163.0,763.3 165.3,763.7 168.3,767.5 170.8,765.8 173.3,765.8 175.8,763.3 178.3,759.7 180.8,763.7 185.8,765.0 190.8,764.7 193.3,763.3 196.7,766.3 199.2,767.5 201.7,764.7 205.8,756.7 208.3,754.7 210.8,754.2 214.2,758.3 216.7,759.7 220.0,757.5 223.7,752.5 226.7,754.2 230.8,752.5 234.2,753.7 236.7,753.3 239.2,750.0 241.7,745.0 244.2,738.3 246.7,730.8 249.2,731.3 251.7,724.7 254.2,730.8 256.7,733.0 259.7,738.3 262.0,737.5 267.0,739.2 270.3,740.0 272.8,739.2 277.0,743.0 282.8,743.3 284.5,748.7 287.0,750.0 290.3,749.7 294.5,748.0 297.3,750.0 300.0,748.0 304.5,750.0 307.8,753.0 310.3,755.0 312.8,753.7 315.3,754.7 319.5,750.0 322.8,745.0 325.3,742.0 327.8,743.0 330.3,735.8 332.8,739.2 335.3,747.5 337.8,743.3 340.3,741.3 342.8,743.3 345.3,745.0 347.8,750.3 351.2,748.7 353.7,747.5 356.2,748.0 358.3,742.0 360.7,746.7 363.7,743.3 366.2,739.7 370.3,741.7 373.7,742.0 376.2,746.7 381.2,745.8 386.2,747.5 391.2,748.7 394.5,751.7 397.0,756.7 399.0,764.2 401.7,768.3 404.0,777.5 407.3,772.5 411.5,765.3 414.0,773.0 416.5,773.3 419.3,775.8 421.5,771.3 424.0,771.7 426.8,765.8 429.0,765.0 431.5,767.0 434.3,756.7 436.8,742.5 439.8,753.3 442.3,758.3 447.3,756.3 449.8,750.0 452.3,740.8 454.0,738.0 457.3,740.0 460.7,741.7 463.2,740.8 464.8,743.0 467.0,737.0 470.7,740.0 473.2,742.5 475.7,751.7 477.3,758.3 480.3,758.3 482.7,760.0 485.3,753.3 487.3,754.2 489.8,763.3 493.2,781.7 497.7,785.3 500.3,774.2 502.7,768.7 506.0,772.5 508.7,775.8 510.7,775.8 513.2,770.0 515.7,755.8 518.2,757.5 521.5,762.5 523.2,765.8 525.7,771.7 528.2,762.5 530.7,749.2 535.7,745.8 538.2,740.8 540.7,737.5 543.2,732.5 545.7,741.3 546.0,741.3 551.0,737.5 554.3,740.0 558.5,742.0 562.7,744.2 567.7,745.8 571.3,743.7 574.3,747.5 577.7,749.2 581.0,749.2 584.3,753.7 586.8,750.8 590.2,754.7 594.3,752.0 597.7,754.2 602.7,760.3 606.8,756.3 611.8,753.0 617.7,755.0 621.8,752.0 625.2,748.3 628.5,749.7 631.8,748.7 637.7,751.3 641.8,749.7 645.7,745.0 649.3,745.8 653.5,748.3 658.0,752.5 661.8,748.7 664.7,749.2 666.3,763.3 668.0,777.0 671.0,778.3 675.2,778.7 678.2,760.8 680.3,771.7 683.0,789.2 685.8,790.8 688.3,790.8 690.8,798.3 693.3,802.5 695.8,810.8 698.3,799.2 700.8,802.5 703.3,804.7 706.3,802.0 708.7,803.7 713.3,804.2 715.8,803.0 718.7,799.7 720.8,802.5 723.7,803.7 726.7,804.2 730.8,807.0 733.3,805.8 736.3,806.7 739.2,810.8 741.7,815.8 745.0,819.7 748.3,821.7 750.8,820.8 753.3,816.7 755.3,805.0 756.7,795.0 759.2,790.3 761.7,793.3 764.2,799.7" fill="none" stroke="#0000ff" stroke-width="2.6" stroke-linejoin="round" stroke-linecap="butt"/>
</g>
<g id="axes">
<polyline points="78.7,37.4 78.7,435.8 871.3,435.8" fill="none" stroke="#000" stroke-width="1.7" stroke-linejoin="round" stroke-linecap="round"/>
<line x1="68.6" y1="53.5" x2="78.7" y2="53.5" stroke="#000" stroke-width="1.7" stroke-linecap="round"/>
<line x1="68.6" y1="172.9" x2="78.7" y2="172.9" stroke="#000" stroke-width="1.7" stroke-linecap="round"/>
<line x1="68.6" y1="292.2" x2="78.7" y2="292.2" stroke="#000" stroke-width="1.7" stroke-linecap="round"/>
<line x1="68.6" y1="411.6" x2="78.7" y2="411.6" stroke="#000" stroke-width="1.7" stroke-linecap="round"/>
<line x1="94.5" y1="435.8" x2="94.5" y2="446.3" stroke="#000" stroke-width="1.7" stroke-linecap="round"/>
<line x1="246.77499999999998" y1="435.8" x2="246.77499999999998" y2="446.3" stroke="#000" stroke-width="1.7" stroke-linecap="round"/>
<line x1="399.04999999999995" y1="435.8" x2="399.04999999999995" y2="446.3" stroke="#000" stroke-width="1.7" stroke-linecap="round"/>
<line x1="551.3249999999999" y1="435.8" x2="551.3249999999999" y2="446.3" stroke="#000" stroke-width="1.7" stroke-linecap="round"/>
<line x1="703.5999999999999" y1="435.8" x2="703.5999999999999" y2="446.3" stroke="#000" stroke-width="1.7" stroke-linecap="round"/>
<line x1="855.8749999999999" y1="435.8" x2="855.8749999999999" y2="446.3" stroke="#000" stroke-width="1.7" stroke-linecap="round"/>
<polyline points="78.7,595.2 78.7,993.3 871.3,993.3" fill="none" stroke="#000" stroke-width="1.7" stroke-linejoin="round" stroke-linecap="round"/>
<line x1="68.6" y1="628" x2="78.7" y2="628" stroke="#000" stroke-width="1.7" stroke-linecap="round"/>
<line x1="68.6" y1="715.3" x2="78.7" y2="715.3" stroke="#000" stroke-width="1.7" stroke-linecap="round"/>
<line x1="68.6" y1="802.6" x2="78.7" y2="802.6" stroke="#000" stroke-width="1.7" stroke-linecap="round"/>
<line x1="68.6" y1="890" x2="78.7" y2="890" stroke="#000" stroke-width="1.7" stroke-linecap="round"/>
<line x1="68.6" y1="977.5" x2="78.7" y2="977.5" stroke="#000" stroke-width="1.7" stroke-linecap="round"/>
<line x1="94.5" y1="993.3" x2="94.5" y2="1003.6" stroke="#000" stroke-width="1.7" stroke-linecap="round"/>
<line x1="246.77499999999998" y1="993.3" x2="246.77499999999998" y2="1003.6" stroke="#000" stroke-width="1.7" stroke-linecap="round"/>
<line x1="399.04999999999995" y1="993.3" x2="399.04999999999995" y2="1003.6" stroke="#000" stroke-width="1.7" stroke-linecap="round"/>
<line x1="551.3249999999999" y1="993.3" x2="551.3249999999999" y2="1003.6" stroke="#000" stroke-width="1.7" stroke-linecap="round"/>
<line x1="703.5999999999999" y1="993.3" x2="703.5999999999999" y2="1003.6" stroke="#000" stroke-width="1.7" stroke-linecap="round"/>
<line x1="855.8749999999999" y1="993.3" x2="855.8749999999999" y2="1003.6" stroke="#000" stroke-width="1.7" stroke-linecap="round"/>
</g>
<g id="labels">
<text x="94.5" y="476" text-anchor="middle" font-size="25" >1990</text>
<text x="94.5" y="1033.4" text-anchor="middle" font-size="25" >1990</text>
<text x="246.77499999999998" y="476" text-anchor="middle" font-size="25" >1995</text>
<text x="246.77499999999998" y="1033.4" text-anchor="middle" font-size="25" >1995</text>
<text x="399.04999999999995" y="476" text-anchor="middle" font-size="25" >2000</text>
<text x="399.04999999999995" y="1033.4" text-anchor="middle" font-size="25" >2000</text>
<text x="551.3249999999999" y="476" text-anchor="middle" font-size="25" >2005</text>
<text x="551.3249999999999" y="1033.4" text-anchor="middle" font-size="25" >2005</text>
<text x="703.5999999999999" y="476" text-anchor="middle" font-size="25" >2010</text>
<text x="703.5999999999999" y="1033.4" text-anchor="middle" font-size="25" >2010</text>
<text x="855.8749999999999" y="476" text-anchor="middle" font-size="25" >2015</text>
<text x="855.8749999999999" y="1033.4" text-anchor="middle" font-size="25" >2015</text>
<text x="475" y="503.5" text-anchor="middle" font-size="25" style="font-kerning:none">Year</text>
<text x="475" y="1062" text-anchor="middle" font-size="25" style="font-kerning:none">Year</text>
<text x="475" y="22.5" text-anchor="middle" font-size="25" font-style="italic">Graph A. CAPM</text>
<text x="475" y="580" text-anchor="middle" font-size="25" font-style="italic">Graph B. Vanguard Benchmark</text>
<text transform="translate(56,53.9) rotate(-90)" text-anchor="middle" font-size="25">0.4</text>
<text transform="translate(56,173.3) rotate(-90)" text-anchor="middle" font-size="25">0.2</text>
<text transform="translate(56,292.59999999999997) rotate(-90)" text-anchor="middle" font-size="25">0</text>
<text transform="translate(56,412.0) rotate(-90)" text-anchor="middle" font-size="25">−0.2</text>
<text transform="translate(56,628.4) rotate(-90)" text-anchor="middle" font-size="25">0.4</text>
<text transform="translate(56,715.6999999999999) rotate(-90)" text-anchor="middle" font-size="25">0.2</text>
<text transform="translate(56,803.0) rotate(-90)" text-anchor="middle" font-size="25">0</text>
<text transform="translate(56,890.4) rotate(-90)" text-anchor="middle" font-size="25">−0.2</text>
<text transform="translate(56,977.9) rotate(-90)" text-anchor="middle" font-size="25">−0.4</text>
<text transform="translate(22,236) rotate(-90)" text-anchor="middle" font-size="25">FSP (% per % annual alpha)</text>
<text transform="translate(22,795) rotate(-90)" text-anchor="middle" font-size="25">FSP (% per % annual alpha)</text>
<text x="542.3" y="131.6" text-anchor="start" font-size="25" letter-spacing="0.42">75th pctl.</text>
<text x="564" y="242.5" text-anchor="start" font-size="25" >Mean</text>
<text x="533" y="288.8" text-anchor="start" font-size="25" >Median</text>
<text x="541.3" y="388.6" text-anchor="start" font-size="25" letter-spacing="0.42">25th pctl.</text>
<text x="560.3" y="632.2" text-anchor="start" font-size="25" letter-spacing="0.42">75th pctl.</text>
<text x="591.3" y="740.8" text-anchor="start" font-size="25" >Median</text>
<text x="581" y="782.4" text-anchor="start" font-size="25" >Mean</text>
<text x="559.6" y="900.3" text-anchor="start" font-size="25" letter-spacing="0.42">25th pctl.</text>
</g>
</svg>
</body></html>
